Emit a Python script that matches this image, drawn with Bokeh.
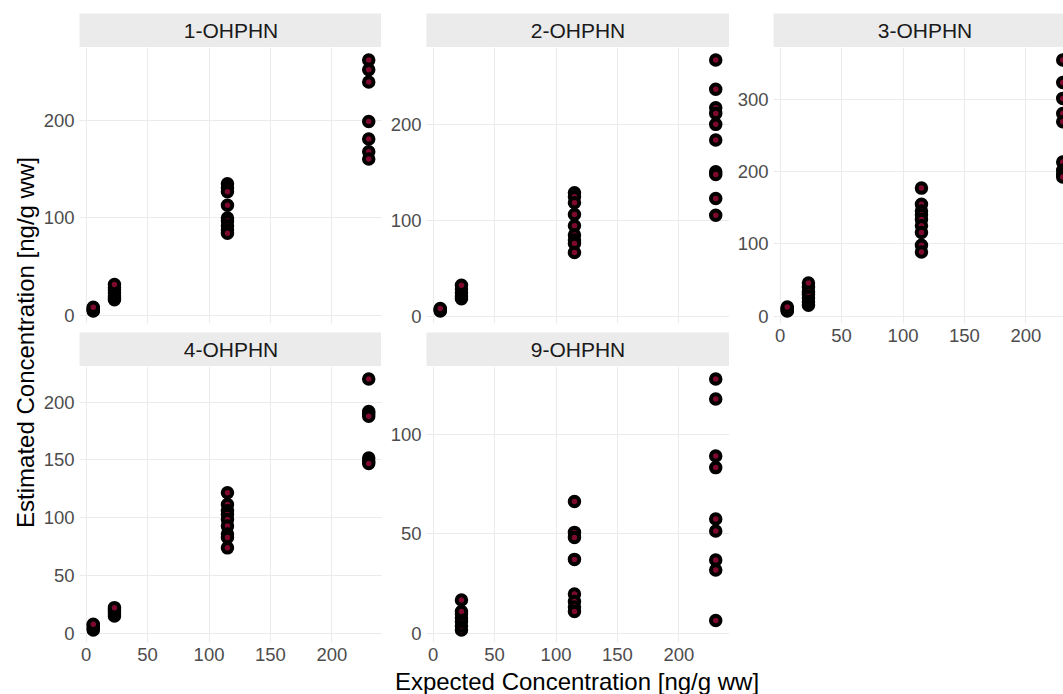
import math
from bokeh.plotting import figure
from bokeh.layouts import row, column
from bokeh.models import Range1d, FixedTicker, LinearAxis
from bokeh.core.properties import value
from bokeh.embed import file_html
from bokeh.resources import INLINE

# ---------------- data ----------------
analytes = ["1-OHPHN", "2-OHPHN", "3-OHPHN", "4-OHPHN", "9-OHPHN"]
x_levels = [5.75, 23, 115, 230]          # expected concentration [ng/g ww]
x_ticks = [0, 50, 100, 150, 200]

# estimated concentrations per expected level (5.75, 23, 115, 230)
est_1ohphn = [
    [4.6, 5.1, 6.0, 7.2, 8.4],
    [16.0, 18.0, 20.0, 23.0, 26.0, 28.5, 31.7],
    [135.0, 131.0, 127.0, 113.0, 100.0, 97.0, 92.0, 88.0, 84.3],
    [262.0, 252.0, 239.4, 199.0, 181.0, 168.0, 160.4],
]
est_2ohphn = [
    [6.2, 7.0, 7.8, 8.8],
    [19.0, 21.8, 25.0, 29.0, 33.0],
    [129.0, 124.7, 118.5, 106.4, 94.6, 85.0, 80.0, 76.3, 67.0],
    [266.8, 236.4, 217.3, 211.4, 200.0, 183.7, 150.7, 148.0, 123.0, 105.7],
]
est_3ohphn = [
    [7.2, 8.0, 9.5, 11.0, 12.5],
    [15.0, 20.0, 25.0, 30.0, 33.0, 40.0, 45.7],
    [177.0, 154.7, 145.4, 140.0, 133.5, 125.0, 115.5, 98.0, 88.6],
    [354.0, 323.0, 301.0, 280.0, 268.7, 213.0, 201.8, 196.0, 192.5],
]
est_4ohphn = [
    [3.0, 4.0, 5.5, 7.0, 8.0],
    [15.0, 17.0, 19.0, 20.7, 22.3],
    [121.6, 111.5, 106.0, 102.9, 98.5, 93.0, 86.0, 83.0, 74.0],
    [220.0, 192.0, 190.7, 187.8, 151.8, 149.0, 147.0],
]
est_9ohphn = [
    [],
    [2.0, 4.0, 6.2, 8.0, 10.0, 11.2, 17.0],
    [66.2, 50.8, 48.3, 37.3, 20.0, 16.2, 13.5, 11.2],
    [127.5, 117.5, 89.0, 83.2, 57.5, 51.5, 37.0, 32.0, 6.7],
]

y_ticks_1 = [0, 100, 200]
y_ticks_2 = [0, 100, 200]
y_ticks_3 = [0, 100, 200, 300]
y_ticks_4 = [0, 50, 100, 150, 200]
y_ticks_9 = [0, 50, 100]

x_title = "Expected Concentration [ng/g ww]"
y_title = "Estimated Concentration [ng/g ww]"

# ---------------- style ----------------
FONT = "Liberation Sans"
GRID = "#EBEBEB"
RED = "#7D0A2D"
TICK_COL = "#4D4D4D"
PANEL_W = 303
PANEL_H = 276
STRIP_H = 34

x_span = max(x_levels) - min(x_levels)
x_lo = min(x_levels) - 0.05 * x_span
x_hi = max(x_levels) + 0.05 * x_span
px_per_x = PANEL_W / (x_hi - x_lo)


def style_axis(ax, standoff):
    ax.axis_line_color = None
    ax.major_tick_line_color = None
    ax.minor_tick_line_color = None
    ax.major_tick_out = 0
    ax.major_tick_in = 0
    ax.minor_tick_out = 0
    ax.minor_tick_in = 0
    ax.major_label_text_font = FONT
    ax.major_label_text_font_size = "18.5px"
    ax.major_label_text_color = TICK_COL
    ax.major_label_standoff = standoff


def base_fig(fw, fh, xr, yr, bl, br, bt, bb, yaxis=False):
    p = figure(frame_width=fw, frame_height=fh, x_range=xr, y_range=yr,
               min_border_left=bl, min_border_right=br,
               min_border_top=bt, min_border_bottom=bb,
               x_axis_location=None,
               y_axis_location="left" if yaxis else None,
               title_location=None, toolbar_location=None,
               output_backend="svg")
    p.outline_line_color = None
    p.border_fill_color = "white"
    p.background_fill_color = "white"
    for g in p.grid:
        g.visible = False
    return p


def panel_fig(est, yticks, fw, bl, bb, show_x):
    xs, ys = [], []
    for lvl, vals in zip(x_levels, est):
        xs += [lvl] * len(vals)
        ys += vals
    ylo, yhi = min(ys), max(ys)
    s = yhi - ylo
    xr_hi = x_lo + fw / px_per_x
    p = base_fig(fw, PANEL_H, Range1d(x_lo, xr_hi),
                 Range1d(ylo - 0.05 * s, yhi + 0.05 * s),
                 bl, 0, 0, bb, yaxis=True)
    p.yaxis.ticker = FixedTicker(ticks=yticks)
    style_axis(p.yaxis[0], 5)
    for g in p.grid:
        g.visible = True
        g.grid_line_color = GRID
        g.grid_line_width = 1.1
        g.minor_grid_line_color = None
    p.xgrid.ticker = FixedTicker(ticks=x_ticks)
    p.ygrid.ticker = FixedTicker(ticks=yticks)
    if show_x:
        ax = LinearAxis(ticker=FixedTicker(ticks=x_ticks))
        style_axis(ax, 5)
        p.add_layout(ax, "below")
    p.scatter(xs, ys, size=9.5, line_width=4, line_color="black",
              fill_color=RED)
    return p


def strip_fig(label, fw, bl, bt):
    p = base_fig(fw, STRIP_H, Range1d(0, fw / PANEL_W), Range1d(0, 1),
                 bl, 0, bt, 0)
    p.background_fill_color = "#EBEBEB"
    p.text(x=[0.5], y=[0.5], text=[label], text_align="center",
           text_baseline="middle", text_font=value(FONT),
           text_font_size="21px", text_color="#1A1A1A")
    return p


TOP = 13
GAP = 9
BOT = 26
ROW_H = TOP + STRIP_H + PANEL_H + GAP + STRIP_H + PANEL_H + BOT
L1 = 38

col1 = column(strip_fig(analytes[0], PANEL_W, L1, TOP),
              panel_fig(est_1ohphn, y_ticks_1, PANEL_W, L1, GAP, False),
              strip_fig(analytes[3], PANEL_W, L1, 0),
              panel_fig(est_4ohphn, y_ticks_4, PANEL_W, L1, BOT, True))
col2 = column(strip_fig(analytes[1], PANEL_W, 44, TOP),
              panel_fig(est_2ohphn, y_ticks_2, PANEL_W, 44, GAP, False),
              strip_fig(analytes[4], PANEL_W, 44, 0),
              panel_fig(est_9ohphn, y_ticks_9, PANEL_W, 44, BOT, True))
W3 = 291
col3 = column(strip_fig(analytes[2], W3, 44, TOP),
              panel_fig(est_3ohphn, y_ticks_3, W3, 44, 30, True))

YT_W = 40
yt = base_fig(YT_W, ROW_H, Range1d(0, YT_W), Range1d(0, ROW_H), 0, 0, 0, 0)
yt.text(x=[24.5], y=[ROW_H - 342], text=[y_title], angle=math.pi / 2,
        text_align="center", text_baseline="middle",
        text_font=value(FONT), text_font_size="24px", text_color="black")

TOTAL_W = 1063
XT_H = 694 - ROW_H
xt = base_fig(TOTAL_W, XT_H, Range1d(0, TOTAL_W), Range1d(0, XT_H), 0, 0, 0, 0)
xt.text(x=[576.5], y=[XT_H / 2], text=[x_title], text_align="center",
        text_baseline="middle", text_font=value(FONT),
        text_font_size="24px", text_color="black")

layout = column(row(yt, col1, col2, col3), xt)

open("out.html", "w").write(file_html(layout, INLINE))
